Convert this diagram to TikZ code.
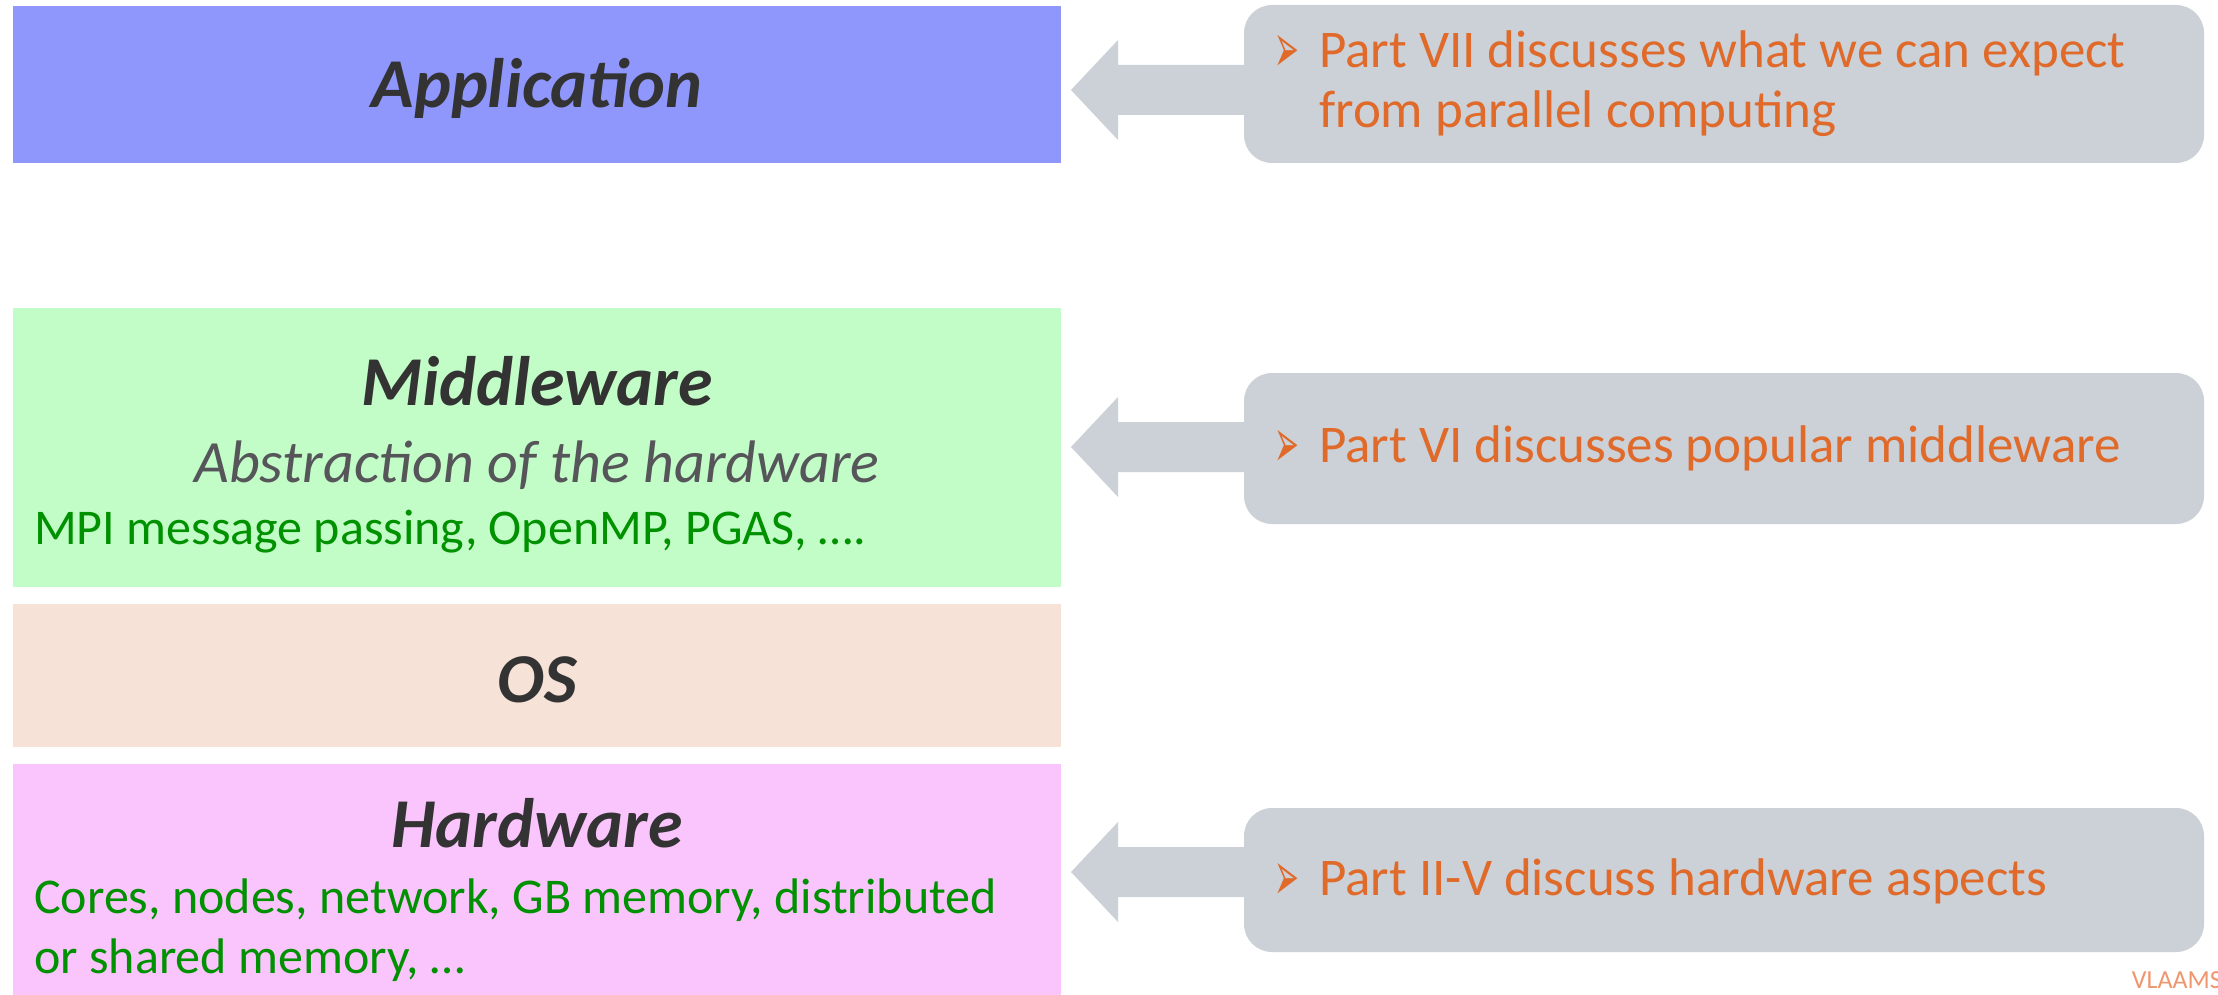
\documentclass[tikz,border=0pt]{standalone}
\usepackage{fontspec}
\setmainfont{Carlito}
\newfontfamily\symfont{DejaVu Sans}
\definecolor{appblue}{RGB}{143,150,252}
\definecolor{midgreen}{RGB}{194,252,198}
\definecolor{ospeach}{RGB}{246,226,214}
\definecolor{hwpink}{RGB}{250,196,252}
\definecolor{calloutgray}{RGB}{204,209,216}
\definecolor{noteorange}{RGB}{224,106,42}
\definecolor{bodygreen}{RGB}{0,145,0}
\definecolor{titlegray}{RGB}{51,51,51}
\definecolor{subgray}{RGB}{85,85,90}
\definecolor{logoorange}{RGB}{240,150,110}
\newcommand{\bulletglyph}{\raisebox{-5pt}{\scalebox{0.62}[1.45]{➢}}}
\tikzset{
  layer/.style={anchor=north west, inner sep=0pt, outer sep=0pt, minimum width=1048pt},
  titletext/.style={font=\fontsize{70}{80}\selectfont\bfseries\itshape, text=titlegray, anchor=base, inner sep=0pt},
  subtext/.style={font=\fontsize{60}{70}\selectfont\itshape, text=subgray, anchor=base, inner sep=0pt},
  bodytext/.style={font=\fontsize{50}{60}\selectfont, text=bodygreen, anchor=base west, inner sep=0pt},
  notetext/.style={font=\fontsize{53}{60}\selectfont, text=noteorange, anchor=base west, inner sep=0pt},
  bulletmark/.style={font=\symfont\fontsize{48}{56}\selectfont, text=noteorange, anchor=base west, inner sep=0pt},
  callout/.style={fill=calloutgray, rounded corners=28pt, anchor=north west, inner sep=0pt, outer sep=0pt, minimum width=960pt},
  blockarrow/.style={fill=calloutgray},
}
\begin{document}
\begin{tikzpicture}[x=1pt,y=-1pt]
\useasboundingbox (0,0) rectangle (2218,995);
\fill[white] (0,0) rectangle (2218,995);

% layer boxes
\node[layer, fill=appblue, minimum height=157pt] (app) at (13,6) {};
\node[layer, fill=midgreen, minimum height=279pt] (mid) at (13,308) {};
\node[layer, fill=ospeach, minimum height=143pt] (os) at (13,604) {};
\node[layer, fill=hwpink, minimum height=235pt] (hw) at (13,764) {};

% layer texts
\node[titletext] (apptitle) at (537,108) {Application};
\node[titletext] (midtitle) at (537,405) {Middleware};
\node[subtext] (midsub) at (537,482) {Abstraction of the hardware};
\node[bodytext] (midbody) at (34,544) {MPI message passing, OpenMP, PGAS, \dots.};
\node[titletext] (ostitle) at (537,702) {OS};
\node[titletext] (hwtitle) at (537,847) {Hardware};
\node[bodytext] (hwbody1) at (34,913) {Cores, nodes, network, GB memory, distributed};
\node[bodytext] (hwbody2) at (34,973) {or shared memory, \dots};

% callouts
\node[callout, minimum height=158pt] (c1) at (1244,5) {};
\node[callout, minimum height=151pt] (c2) at (1244,373) {};
\node[callout, minimum height=144pt] (c3) at (1244,808) {};

% block arrows
\coordinate (t1) at (1071,90);
\coordinate (t2) at (1071,447);
\coordinate (t3) at (1071,872);
\foreach \t in {t1,t2,t3}{
  \fill[blockarrow] (\t) -- ++(47,-50) -- ++(0,25) -- ++(140,0) -- ++(0,50) -- ++(-140,0) -- ++(0,25) -- cycle;
}

% callout texts
\node[bulletmark] (b1) at (1274,68) {\bulletglyph};
\node[notetext] (n1a) at (1319,68) {Part VII discusses what we can expect};
\node[notetext] (n1b) at (1319,128) {from parallel computing};
\node[bulletmark] (b2) at (1274,462) {\bulletglyph};
\node[notetext] (n2) at (1319,462) {Part VI discusses popular middleware};
\node[bulletmark] (b3) at (1274,895) {\bulletglyph};
\node[notetext] (n3) at (1319,895) {Part II-V discuss hardware aspects};

% logo
\node[font=\fontsize{26}{30}\selectfont, text=logoorange, anchor=base east, inner sep=0pt] (logo) at (2222,988) {VLAAMS};
\end{tikzpicture}
\end{document}
